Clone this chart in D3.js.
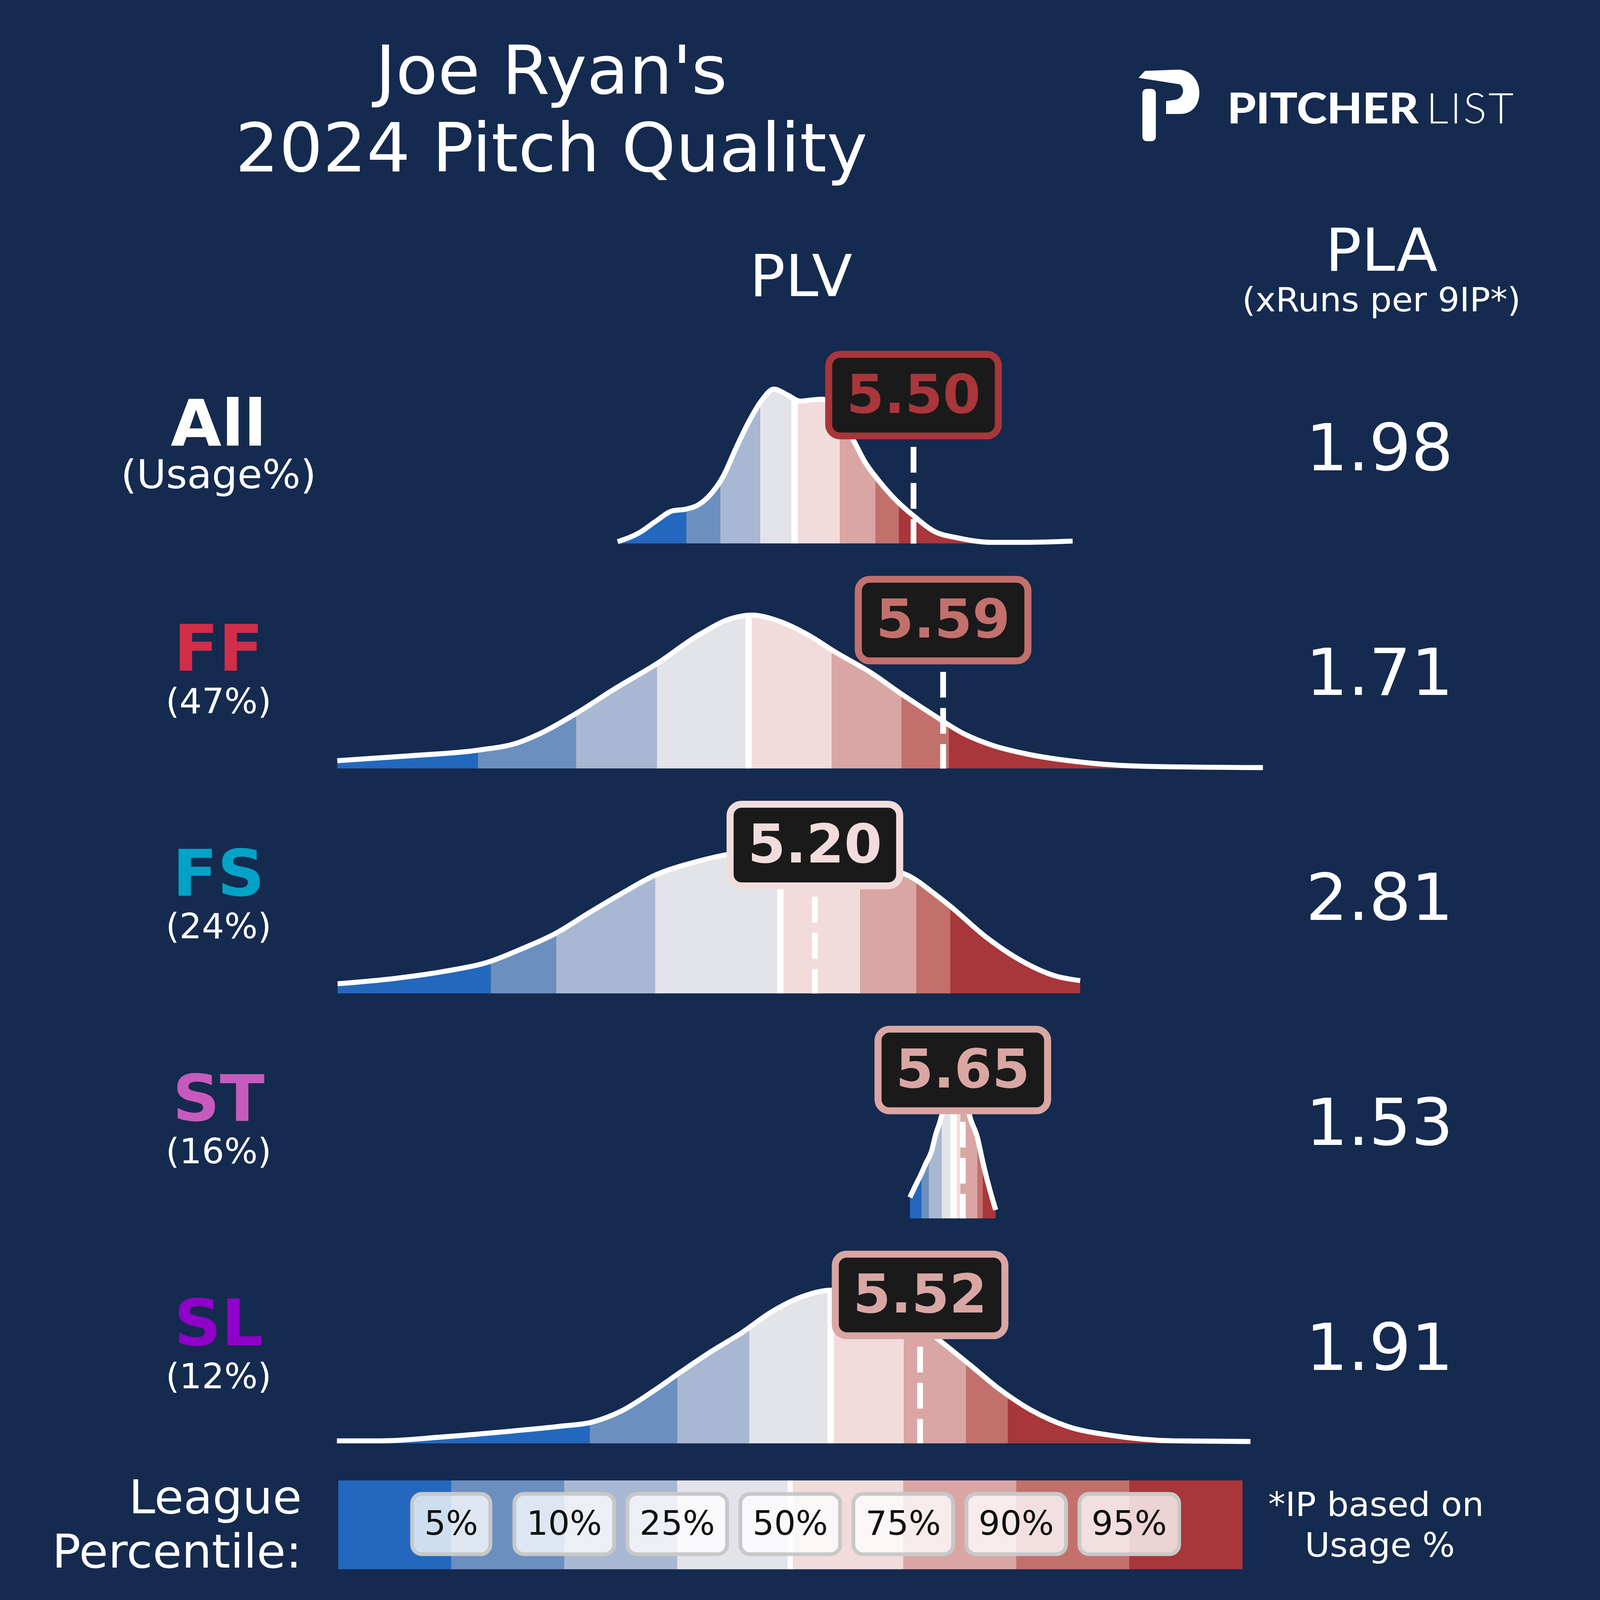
<!DOCTYPE html>
<html>
<head>
<meta charset="utf-8">
<title>Joe Ryan 2024 Pitch Quality</title>
<script src="https://cdn.jsdelivr.net/npm/d3@7"></script>
<style>
  html, body { margin: 0; padding: 0; width: 100%; height: 100%; overflow: hidden; background: #152a4f; }
  svg { display: block; }
  text { font-family: "DejaVu Sans", sans-serif; fill: #ffffff; }
</style>
</head>
<body>
<script>
// ---- data ----
var pitchTypes = ["All", "FF", "FS", "ST", "SL"];
var usageLabels = ["(Usage%)", "(47%)", "(24%)", "(16%)", "(12%)"];
var pitchColors = ["#ffffff", "#d22d49", "#00a3c6", "#c75bbd", "#8f00c9"];
var plvValues = [5.50, 5.59, 5.20, 5.65, 5.52];
var plaValues = [1.98, 1.71, 2.81, 1.53, 1.91];

var percentileLabels = ["5%", "10%", "25%", "50%", "75%", "90%", "95%"];
var bandColors = ["#2368be", "#6b90c0", "#a9b8d2", "#e3e4ea", "#f2dcdb", "#d9a6a3", "#c3706c", "#a8363b"];

// league percentile cut points (PLV) per pitch type: 5,10,25,50,75,90,95
var allCuts = [4.809, 4.912, 5.033, 5.138, 5.276, 5.384, 5.456];
var ffCuts  = [4.175, 4.473, 4.719, 4.998, 5.251, 5.464, 5.608];
var fsCuts  = [4.214, 4.413, 4.714, 5.095, 5.338, 5.509, 5.612];
var stCuts  = [5.524, 5.546, 5.586, 5.622, 5.643, 5.695, 5.711];
var slCuts  = [4.515, 4.781, 5.000, 5.248, 5.471, 5.660, 5.787];

// density curves [plv, density]
var allCurve = [[4.600,0.03],[4.668,0.18],[4.717,0.36],[4.766,0.52],[4.809,0.55],[4.843,0.61],[4.882,0.78],
  [4.921,1.07],[4.960,1.52],[4.999,1.94],[5.038,2.28],[5.075,2.46],[5.116,2.37],[5.155,2.27],[5.194,2.29],
  [5.223,2.30],[5.252,2.21],[5.272,2.10],[5.291,1.90],[5.319,1.63],[5.350,1.32],[5.393,1.01],[5.447,0.69],
  [5.503,0.43],[5.561,0.20],[5.635,0.09],[5.740,0.02],[5.837,0.02],[5.984,0.04]];
var ffCurve = [[3.747,0.125],[3.974,0.205],[4.178,0.295],[4.290,0.40],[4.365,0.56],[4.476,0.885],[4.588,1.26],
  [4.719,1.67],[4.849,2.135],[4.943,2.385],[5.008,2.445],[5.092,2.345],[5.184,2.115],[5.259,1.865],[5.371,1.525],
  [5.464,1.185],[5.557,0.865],[5.651,0.56],[5.743,0.365],[5.837,0.24],[6.023,0.095],[6.209,0.035],[6.563,0.015]];
var fsCurve = [[3.748,0.155],[3.922,0.24],[4.075,0.355],[4.212,0.51],[4.303,0.70],[4.409,0.95],[4.516,1.295],
  [4.608,1.58],[4.714,1.885],[4.836,2.095],[4.950,2.23],[5.038,2.29],[5.136,2.325],[5.233,2.25],[5.330,2.125],
  [5.408,2.0],[5.482,1.885],[5.566,1.58],[5.612,1.39],[5.718,0.91],[5.825,0.53],[5.931,0.28],[6.007,0.205]];
var stCurve = [[5.489,0.335],[5.507,0.535],[5.524,0.715],[5.537,0.87],[5.555,1.075],[5.567,1.325],[5.581,1.55],
  [5.590,1.725],[5.610,2.35],[5.630,2.7],[5.650,2.2],[5.671,1.63],[5.694,1.295],[5.711,0.895],[5.728,0.535],
  [5.750,0.135]];
var slCurve = [[3.746,0.04],[3.878,0.04],[4.061,0.10],[4.244,0.18],[4.428,0.275],[4.519,0.335],[4.611,0.515],
  [4.702,0.81],[4.794,1.145],[4.885,1.465],[4.977,1.76],[5.068,2.095],[5.160,2.335],[5.251,2.44],[5.301,2.425],
  [5.369,2.35],[5.447,2.15],[5.515,1.90],[5.582,1.63],[5.673,1.245],[5.765,0.85],[5.856,0.535],[5.966,0.275],
  [6.112,0.12],[6.296,0.04],[6.525,0.03]];

var curves = [allCurve, ffCurve, fsCurve, stCurve, slCurve];
var cuts = [allCuts, ffCuts, fsCuts, stCuts, slCuts];

// ---- setup ----
var width = 5000, height = 5098;

var svg = d3.select("body").append("svg")
  .attr("viewBox", "0 0 " + width + " " + height)
  .attr("preserveAspectRatio", "none")
  .attr("width", "100%")
  .attr("height", "100%");

svg.append("rect").attr("width", width).attr("height", height).attr("fill", "#152a4f");

var x = d3.scaleLinear().domain([3.75, 6.5]).range([1057, 3882]);
var dens = d3.scaleLinear().domain([0, 1]).range([0, 200]);
var rowY = d3.scalePoint().domain(pitchTypes).range([1732, 4599]);

// ---- titles ----
svg.append("text").attr("x", 1723).attr("y", 299).attr("text-anchor", "middle")
  .style("font-size", "215px").text("Joe Ryan's");
svg.append("text").attr("x", 1723).attr("y", 546).attr("text-anchor", "middle")
  .style("font-size", "215px").text("2024 Pitch Quality");

svg.append("text").attr("x", 2503).attr("y", 943).attr("text-anchor", "middle")
  .style("font-size", "185px").text("PLV");
svg.append("text").attr("x", 4317).attr("y", 862).attr("text-anchor", "middle")
  .style("font-size", "188px").text("PLA");
svg.append("text").attr("x", 4317).attr("y", 992).attr("text-anchor", "middle")
  .style("font-size", "107px").text("(xRuns per 9IP*)");

// ---- logo ----
var logo = svg.append("g").attr("fill", "#ffffff");
logo.append("path")
  .attr("d", "M3558,248 L3578,226 L3680,222 C3725,222 3748,260 3748,295 C3748,335 3725,363 3688,363 " +
             "L3644,363 L3644,322 L3672,318 C3690,315 3697,300 3697,290 C3697,278 3690,268 3682,268 Z");
logo.append("rect").attr("x", 3570).attr("y", 283).attr("width", 42).attr("height", 167).attr("rx", 14);
svg.append("text").attr("x", 3835).attr("y", 393)
  .attr("textLength", 598).attr("lengthAdjust", "spacingAndGlyphs")
  .style("font-family", "Lato, 'Open Sans', sans-serif").style("font-weight", 900)
  .style("font-size", "136px").text("PITCHER");
svg.append("text").attr("x", 4457).attr("y", 393)
  .attr("textLength", 273).attr("lengthAdjust", "spacing")
  .style("font-family", "Lato, 'Open Sans', sans-serif").style("font-weight", 300)
  .style("font-size", "136px").text("LIST");

// ---- rows ----
pitchTypes.forEach(function(p, i) {
  var base = rowY(p);
  var data = curves[i];
  var rowCuts = cuts[i];

  var area = d3.area()
    .x(function(d) { return x(d[0]); })
    .y0(base)
    .y1(function(d) { return base - dens(d[1]); })
    .curve(d3.curveMonotoneX);

  var line = d3.line()
    .x(function(d) { return x(d[0]); })
    .y(function(d) { return base - dens(d[1]); })
    .curve(d3.curveMonotoneX);

  svg.append("clipPath").attr("id", "clip-" + i)
    .append("path").attr("d", area(data));

  var edges = [data[0][0]].concat(rowCuts).concat([data[data.length - 1][0]]);
  var g = svg.append("g").attr("clip-path", "url(#clip-" + i + ")");

  g.selectAll("rect.band")
    .data(bandColors)
    .enter().append("rect")
    .attr("class", "band")
    .attr("x", function(d, j) { return x(edges[j]); })
    .attr("width", function(d, j) { return x(edges[j + 1]) - x(edges[j]); })
    .attr("y", base - 800)
    .attr("height", 800)
    .attr("fill", function(d) { return d; });

  // median (50th pct) white line
  g.append("rect")
    .attr("x", x(rowCuts[3]) - 10)
    .attr("width", 20)
    .attr("y", base - 800)
    .attr("height", 800)
    .attr("fill", "#ffffff");

  svg.append("path")
    .attr("d", line(data))
    .attr("fill", "none")
    .attr("stroke", "#ffffff")
    .attr("stroke-width", 16);

  var v = plvValues[i];
  var boxColor = bandColors[d3.bisectRight(rowCuts, v)];

  svg.append("line")
    .attr("x1", x(v)).attr("x2", x(v))
    .attr("y1", base - 308).attr("y2", base)
    .attr("stroke", "#ffffff")
    .attr("stroke-width", 18)
    .attr("stroke-dasharray", "82,33");

  svg.append("rect")
    .attr("x", x(v) - 265)
    .attr("y", base - 603)
    .attr("width", 530)
    .attr("height", 260)
    .attr("rx", 36)
    .attr("fill", "#1a1a1a")
    .attr("stroke", boxColor)
    .attr("stroke-width", 22);

  svg.append("text")
    .attr("x", x(v)).attr("y", base - 417)
    .attr("text-anchor", "middle")
    .style("font-weight", "bold").style("font-size", "170px")
    .style("fill", boxColor)
    .text(v.toFixed(2));

  svg.append("text")
    .attr("x", 683).attr("y", base - 312)
    .attr("text-anchor", "middle")
    .style("font-weight", "bold").style("font-size", "205px")
    .style("fill", pitchColors[i])
    .text(p);

  svg.append("text")
    .attr("x", 683).attr("y", base - 176)
    .attr("text-anchor", "middle")
    .style("font-size", i === 0 ? "126px" : "110px")
    .text(usageLabels[i]);

  svg.append("text")
    .attr("x", 4311).attr("y", base - 234)
    .attr("text-anchor", "middle")
    .style("font-size", "207px")
    .text(plaValues[i].toFixed(2));
});

// ---- legend ----
var legend = d3.scaleBand().domain(d3.range(bandColors.length)).range([x(3.75), x(6.5)]);
var legTop = 4717, legH = 283;

svg.selectAll("rect.leg")
  .data(bandColors)
  .enter().append("rect")
  .attr("class", "leg")
  .attr("x", function(d, j) { return legend(j); })
  .attr("width", legend.bandwidth() + 1)
  .attr("y", legTop)
  .attr("height", legH)
  .attr("fill", function(d) { return d; });

svg.append("rect")
  .attr("x", legend(4) - 8).attr("width", 16)
  .attr("y", legTop).attr("height", legH)
  .attr("fill", "#ffffff");

percentileLabels.forEach(function(lab, j) {
  var cx = legend(j + 1);
  var box = svg.append("rect");
  var t = svg.append("text")
    .attr("x", cx).attr("y", 4890)
    .attr("text-anchor", "middle")
    .style("font-size", "106px")
    .style("fill", "#111111")
    .text(lab);
  var w = t.node().getComputedTextLength() + 76;
  box.attr("x", cx - w / 2).attr("y", 4760)
    .attr("width", w).attr("height", 192)
    .attr("rx", 30)
    .attr("fill", "#ffffff").attr("fill-opacity", 0.78)
    .attr("stroke", "#c8c8c8").attr("stroke-width", 12);
});

svg.append("text").attr("x", 943).attr("y", 4822).attr("text-anchor", "end")
  .style("font-size", "148px").text("League");
svg.append("text").attr("x", 943).attr("y", 4995).attr("text-anchor", "end")
  .style("font-size", "148px").text("Percentile:");

svg.append("text").attr("x", 4300).attr("y", 4830).attr("text-anchor", "middle")
  .style("font-size", "107px").text("*IP based on");
svg.append("text").attr("x", 4312).attr("y", 4960).attr("text-anchor", "middle")
  .style("font-size", "107px").text("Usage %");
</script>
</body>
</html>
